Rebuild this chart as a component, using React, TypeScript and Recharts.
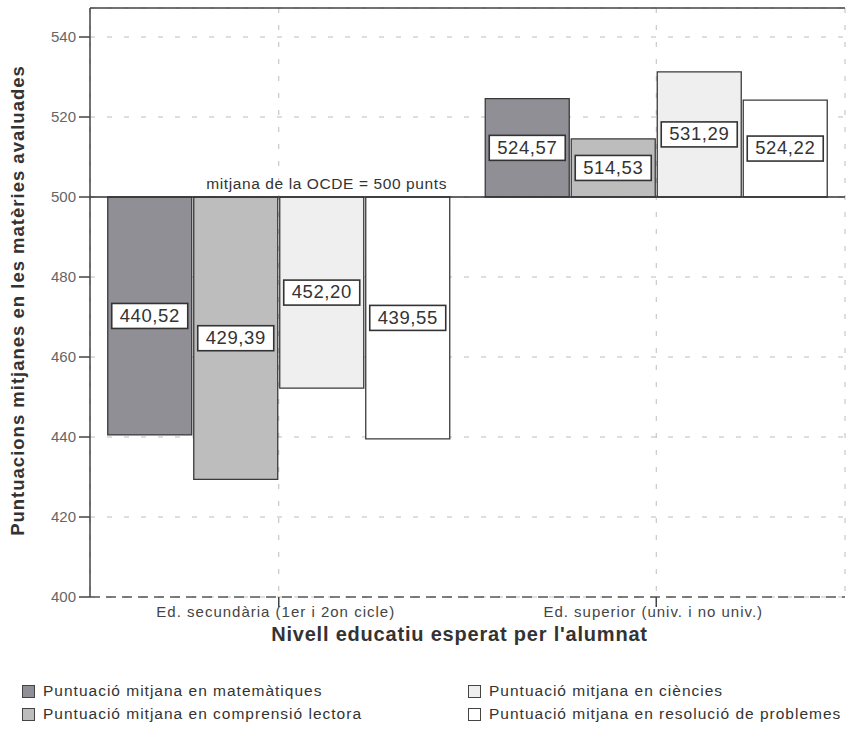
import React from 'react';
import {
  BarChart,
  Bar,
  XAxis,
  YAxis,
  CartesianGrid,
  ReferenceLine,
  LabelList,
} from 'recharts';

const categories = ['Ed. secundària (1er i 2on cicle)', 'Ed. superior (univ. i no univ.)'];
const matematiques = [440.52, 524.57];
const lectora = [429.39, 514.53];
const ciencies = [452.2, 531.29];
const problemes = [439.55, 524.22];
const baseline = 500;
const yTicks = [400, 420, 440, 460, 480, 500, 520, 540];

const series = [
  { key: 'mat', name: 'Puntuació mitjana en matemàtiques', fill: '#908f96', values: matematiques },
  { key: 'lec', name: 'Puntuació mitjana en comprensió lectora', fill: '#bdbdbd', values: lectora },
  { key: 'cie', name: 'Puntuació mitjana en ciències', fill: '#efefef', values: ciencies },
  { key: 'pro', name: 'Puntuació mitjana en resolució de problemes', fill: '#ffffff', values: problemes },
];

const data = categories.map((cat, i) => {
  const row: Record<string, any> = { cat };
  series.forEach((s) => {
    row[s.key] = [baseline, s.values[i]];
  });
  return row;
});

const FONT = '"Liberation Sans", Arial, sans-serif';

const ValueBox = (props: any) => {
  const { x, y, width, height, value } = props;
  const v = Array.isArray(value) ? value[1] : value;
  const cx = x + width / 2;
  const cy = y + height / 2;
  const w = 76;
  const h = 25;
  return (
    <g>
      <rect x={cx - w / 2} y={cy - h / 2} width={w} height={h} fill="#fff" stroke="#333" strokeWidth={1.6} />
      <text
        x={cx}
        y={cy + 1}
        textAnchor="middle"
        dominantBaseline="middle"
        fontFamily={FONT}
        fontSize={18.5}
        letterSpacing={0.6}
        fill="#333"
      >
        {Number(v).toFixed(2).replace('.', ',')}
      </text>
    </g>
  );
};

const XTick = (props: any) => {
  const { x, y, payload } = props;
  return (
    <text x={x - 3} y={y + 8} textAnchor="middle" fontFamily={FONT} fontSize={15} letterSpacing={1} fill="#444">
      {payload.value}
    </text>
  );
};

const XTitle = (props: any) => {
  const { viewBox } = props;
  return (
    <text
      x={viewBox.x + viewBox.width / 2 - 8}
      y={viewBox.y + 44}
      textAnchor="middle"
      fontFamily={FONT}
      fontSize={20}
      fontWeight="bold"
      letterSpacing={0.8}
      fill="#333"
    >
      Nivell educatiu esperat per l'alumnat
    </text>
  );
};

const YTitle = (props: any) => {
  const { viewBox } = props;
  const cx = 19;
  const cy = viewBox.y + viewBox.height / 2 - 2;
  return (
    <text
      x={cx}
      y={cy}
      transform={`rotate(-90, ${cx}, ${cy})`}
      textAnchor="middle"
      dominantBaseline="middle"
      fontFamily={FONT}
      fontSize={18.5}
      fontWeight="bold"
      letterSpacing={1}
      fill="#333"
    >
      Puntuacions mitjanes en les matèries avaluades
    </text>
  );
};

const OcdeLabel = (props: any) => {
  const { viewBox } = props;
  return (
    <text
      x={viewBox.x + 357}
      y={viewBox.y - 8}
      textAnchor="end"
      fontFamily={FONT}
      fontSize={15.5}
      letterSpacing={0.6}
      fill="#333"
    >
      mitjana de la OCDE = 500 punts
    </text>
  );
};

const legendPos = [
  { left: 22, top: 681 },
  { left: 22, top: 704 },
  { left: 468, top: 681 },
  { left: 468, top: 704 },
];

export default function App() {
  return (
    <div style={{ position: 'absolute', left: 0, top: 0, width: 858, height: 734, background: '#fff' }}>
      <BarChart
        width={858}
        height={734}
        data={data}
        margin={{ top: 8, right: 13, left: 0, bottom: 0 }}
        barCategoryGap="4.7%"
        barGap={2}
      >
        <CartesianGrid stroke="#bdbdbd" strokeDasharray="5 12" />
        <XAxis
          dataKey="cat"
          height={137}
          axisLine={false}
          tickLine={{ stroke: '#444', strokeWidth: 1.5 }}
          tickSize={10}
          tick={<XTick />}
          label={<XTitle />}
        />
        <YAxis
          width={90}
          domain={[400, 547.25]}
          ticks={yTicks}
          allowDataOverflow
          axisLine={{ stroke: '#444', strokeWidth: 1.5 }}
          tickLine={{ stroke: '#444', strokeWidth: 1.5 }}
          tickSize={11}
          tickMargin={3}
          tick={{ fontFamily: FONT, fontSize: 15, fill: '#666' }}
          label={<YTitle />}
        />
        <YAxis
          yAxisId="frame"
          orientation="right"
          width={0}
          domain={[400, 547.25]}
          tick={false}
          tickLine={false}
          axisLine={{ stroke: '#444', strokeWidth: 1.5 }}
        />
        <ReferenceLine y={547.25} stroke="#444" strokeWidth={1.5} />
        <ReferenceLine y={400} stroke="#555" strokeWidth={1.5} strokeDasharray="10 6" />
        {series.map((s) => (
          <Bar
            key={s.key}
            dataKey={s.key}
            name={s.name}
            fill={s.fill}
            stroke="#3a3a3a"
            strokeWidth={1.3}
            isAnimationActive={false}
          >
            <LabelList dataKey={s.key} content={<ValueBox />} />
          </Bar>
        ))}
        <ReferenceLine y={baseline} stroke="#333" strokeWidth={1.5} label={<OcdeLabel />} />
      </BarChart>
      {series.map((s, i) => (
        <div
          key={s.key}
          style={{
            position: 'absolute',
            left: legendPos[i].left,
            top: legendPos[i].top,
            display: 'flex',
            alignItems: 'center',
            fontFamily: FONT,
            fontSize: 15.5,
            letterSpacing: 1,
            color: '#333',
            whiteSpace: 'nowrap',
            lineHeight: '20px',
          }}
        >
          <span
            style={{
              display: 'inline-block',
              width: 11,
              height: 11,
              background: s.fill,
              border: '1.5px solid #444',
              marginRight: 8,
            }}
          />
          {s.name}
        </div>
      ))}
    </div>
  );
}
